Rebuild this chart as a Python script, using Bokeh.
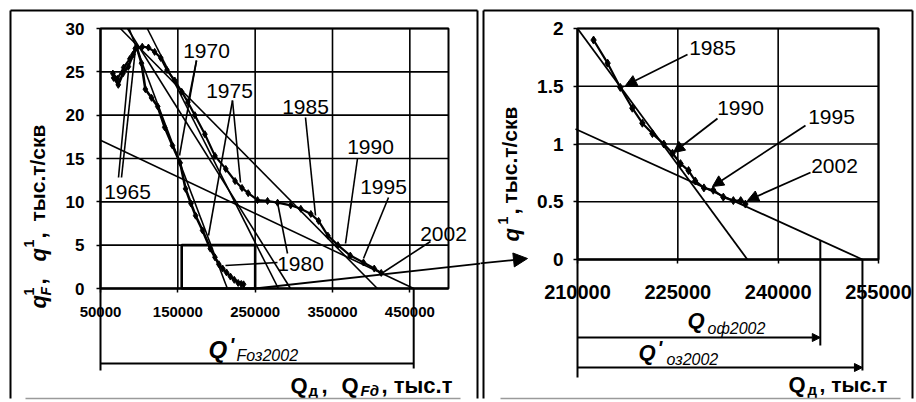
import math
from bokeh.plotting import figure
from bokeh.models import Range1d, FixedTicker, Label, Arrow, NormalHead
from bokeh.layouts import row
from bokeh.embed import file_html
from bokeh.resources import INLINE

FONT = "Liberation Sans"

# ---------------- data ----------------
# Left panel: q_F^1 vs Q_Fd (fund curve)
QF_fund = [66000, 72000, 80000, 88000, 95000, 104000, 112000, 120000, 128000, 136000,
           146000, 155000, 163000, 172000, 185000, 198000, 212000, 224000, 233000, 241000,
           253000, 266000, 279000, 296000, 309000, 322000, 332000, 344000, 357000, 373000,
           390000, 404000, 413000]
qF_fund = [24.8, 24.2, 25.5, 26.5, 27.7, 27.9, 27.8, 27.3, 26.6, 25.2,
           24.0, 22.7, 21.5, 20.0, 17.8, 15.3, 13.8, 12.4, 11.6, 11.0,
           10.2, 10.1, 9.9, 9.6, 9.2, 8.6, 7.8, 6.1, 5.0, 3.8,
           3.0, 2.3, 1.8]
# Left panel: q^1 vs Q_d (well curve)
Q_well = [67000, 73000, 79000, 86000, 92000, 97000, 103000, 108000, 116000, 124000,
          133000, 143000, 153000, 160000, 167000, 173000, 182000, 192000, 198000, 203000,
          208000, 213000, 218000, 223000, 228000, 232000, 235000]
q_well = [24.3, 23.5, 24.8, 25.6, 27.0, 27.8, 26.0, 23.0, 22.0, 21.0,
          18.6, 16.5, 14.5, 11.5, 9.8, 8.4, 6.7, 4.6, 3.6, 2.8,
          2.3, 1.85, 1.38, 1.0, 0.64, 0.53, 0.48]
# Left panel straight trend lines (start / end points)
left_trend_x0 = [50000, 75700, 110500, 87000, 84900]
left_trend_y0 = [17.1, 30.0, 30.0, 30.0, 30.0]
left_trend_x1 = [455000, 408000, 280000, 214000, 295700]
left_trend_y1 = [0.0, 0.0, 0.0, 0.0, 0.0]
left_xticks = [50000, 150000, 250000, 350000, 450000]
left_yticks = [0, 5, 10, 15, 20, 25, 30]
left_xlim = [50000, 500000]
left_ylim = [0, 30]
left_box_x = [155000, 250000]
left_box_y = [0, 5]
QF_oz2002 = 455000          # Q'_Fоз2002 (zero of the last trend line)

# Right panel: q^1 vs Q_d (zoomed)
Q_zoom = [212400, 214500, 216400, 218200, 219700, 221200, 222900, 224200, 225400, 226600,
          227600, 228900, 230300, 231800, 233300, 234400, 235100]
q_zoom = [1.90, 1.70, 1.49, 1.31, 1.18, 1.09, 1.00, 0.92, 0.83, 0.77,
          0.68, 0.62, 0.60, 0.54, 0.51, 0.51, 0.48]
right_trend_x0 = [210000, 209700]
right_trend_y0 = [2.0, 1.13]
right_trend_x1 = [235400, 252600]
right_trend_y1 = [0.0, 0.0]
right_xticks = [210000, 225000, 240000, 255000]
right_yticks = [0, 0.5, 1, 1.5, 2]
right_xlim = [210000, 255000]
right_ylim = [0, 2]
Q_of2002 = 246300           # Q_оф2002
Q_oz2002 = 252600           # Q'_оз2002

# ---------------- layout helpers ----------------
H = 402
LW, RW = 480, 436
# page-pixel -> data converters (plot-area geometry of each panel)
def LX(px): return 50000 + (px - 100) / 348 * 450000
def LY(py): return (288 - py) / 260 * 30
def RX(px): return 210000 + (px - 577) / 301 * 45000
def RY(py): return (259 - py) / 231 * 2


def make_fig(w, xr, yr, xlim, ylim, xticks, yticks, xsize, ysize, xstand, ystand, yover=None):
    p = figure(width=w, height=H, x_range=Range1d(*xr), y_range=Range1d(*yr),
               output_backend="svg", toolbar_location=None,
               min_border=0, min_border_left=0, min_border_right=0,
               min_border_top=0, min_border_bottom=0)
    p.background_fill_color = "white"
    p.border_fill_color = "white"
    p.outline_line_color = None
    p.xgrid.visible = False
    p.ygrid.visible = False
    p.xaxis.ticker = FixedTicker(ticks=xticks)
    p.yaxis.ticker = FixedTicker(ticks=yticks)
    p.xaxis.major_label_overrides = {t: str(t) for t in xticks}
    p.yaxis.major_label_overrides = yover or {t: str(t) for t in yticks}
    p.xaxis.fixed_location = ylim[0]
    p.yaxis.fixed_location = xlim[0]
    p.xaxis.bounds = tuple(xlim)
    p.yaxis.bounds = tuple(ylim)
    for ax, size, stand in ((p.xaxis[0], xsize, xstand), (p.yaxis[0], ysize, ystand)):
        ax.axis_line_color = "black"
        ax.axis_line_width = 1.8
        ax.major_tick_line_color = "black"
        ax.major_tick_line_width = 1.5
        ax.major_tick_in = 0
        ax.major_tick_out = 4
        ax.minor_tick_line_color = None
        ax.major_label_text_font = FONT
        ax.major_label_text_font_style = "bold"
        ax.major_label_text_font_size = f"{size}px"
        ax.major_label_text_color = "black"
        ax.major_label_standoff = stand
    # grid lines limited to the plot area
    p.segment(x0=xticks, y0=[ylim[0]] * len(xticks), x1=xticks, y1=[ylim[1]] * len(xticks),
              line_color="black", line_width=1.6)
    p.segment(x0=[xlim[0]] * len(yticks), y0=yticks, x1=[xlim[1]] * len(yticks), y1=yticks,
              line_color="black", line_width=1.6)
    p.quad(left=xlim[0], right=xlim[1], bottom=ylim[0], top=ylim[1],
           fill_color=None, line_color="black", line_width=2.0)
    return p


def lab(p, x, y, text, size, style="normal", align="center", angle=0.0):
    p.add_layout(Label(x=x, y=y, text=text, text_font=FONT, text_font_size=f"{size}px",
                       text_font_style=style, text_align=align, text_baseline="middle",
                       angle=angle, text_color="black"))


def seg(p, x0, y0, x1, y1, w=1.4, head=None, color="black"):
    p.add_layout(Arrow(x_start=x0, y_start=y0, x_end=x1, y_end=y1, line_width=w,
                       line_color=color, end=head))


def head(size):
    return NormalHead(size=size, fill_color="black", line_color="black", line_width=1)


R90 = math.pi / 2

# ================= LEFT PANEL =================
p1 = make_fig(LW, (LX(0), LX(LW)), (LY(H), LY(0)), left_xlim, left_ylim,
              left_xticks, left_yticks, 15, 17, 14, 12)

p1.segment(x0=left_trend_x0, y0=left_trend_y0, x1=left_trend_x1, y1=left_trend_y1,
           line_color="black", line_width=1.6)
p1.line(QF_fund, qF_fund, line_color="black", line_width=2.2)
p1.scatter(QF_fund, qF_fund, marker="diamond", size=7, color="black")
p1.line(Q_well, q_well, line_color="black", line_width=2.6)
p1.scatter(Q_well, q_well, marker="diamond", size=7, color="black")
p1.quad(left=left_box_x[0], right=left_box_x[1], bottom=left_box_y[0], top=left_box_y[1],
        fill_color=None, line_color="black", line_width=2.6)

# year labels
for t, (px, py) in {"1965": (127, 191), "1970": (206, 50), "1975": (229, 90),
                    "1985": (305, 106), "1990": (370, 146), "1995": (383, 186),
                    "1980": (300, 263), "2002": (443, 233)}.items():
    lab(p1, LX(px), LY(py), t, 21)

# pointer lines
for (a, b, c, d) in [(118, 177, 128, 70), (121, 177, 135, 48),
                     (196, 60, 179, 155), (196, 60, 188, 100),
                     (232, 100, 208, 235), (232, 100, 240, 182),
                     (287, 253, 277, 202), (277, 262, 225, 265),
                     (305, 117, 315, 215), (357, 158, 345, 243),
                     (388, 197, 363, 258), (430, 241, 381, 273)]:
    seg(p1, LX(a), LY(b), LX(c), LY(d), w=1.6)

# big arrow towards the zoomed panel (left part)
seg(p1, left_box_x[1], left_box_y[0], LX(481), LY(263), w=1.8)

# bracket Q'_Fоз2002
seg(p1, left_xlim[0], LY(363), QF_oz2002, LY(363), w=2.0)
seg(p1, left_xlim[0], 0, left_xlim[0], LY(370), w=2.0)
seg(p1, QF_oz2002, 0, QF_oz2002, LY(368), w=2.0)
lab(p1, LX(208), LY(349), "Q", 24, "bold italic", "left")
lab(p1, LX(229), LY(344), "'", 20, "bold italic", "left")
lab(p1, LX(236), LY(355), "Fоз2002", 16, "italic", "left")

# x axis title: Q_д, Q_Fд, тыс.т
lab(p1, LX(290), LY(385), "Q", 22, "bold", "left")
lab(p1, LX(308), LY(390), "д", 15, "bold", "left")
lab(p1, LX(321), LY(385), ",", 22, "bold", "left")
lab(p1, LX(341), LY(385), "Q", 22, "bold", "left")
lab(p1, LX(360), LY(390), "Fд", 15, "bold italic", "left")
lab(p1, LX(381), LY(385), ", тыс.т", 22, "bold", "left")

# y axis title (rotated): q_F^1, q^1, тыс.т/скв
lab(p1, LX(38), LY(308), "q", 22, "bold italic", "left", R90)
lab(p1, LX(45), LY(295), "F", 14, "bold italic", "left", R90)
lab(p1, LX(28), LY(295), "1", 14, "bold", "left", R90)
lab(p1, LX(38), LY(284), ",", 22, "bold", "left", R90)
lab(p1, LX(38), LY(261), "q", 22, "bold italic", "left", R90)
lab(p1, LX(28), LY(247), "1", 14, "bold", "left", R90)
lab(p1, LX(38), LY(238), ",", 22, "bold", "left", R90)
lab(p1, LX(37), LY(221), "тыс.т/скв", 21, "bold", "left", R90)

# panel frame
seg(p1, LX(10), LY(10), LX(477), LY(10), w=2.0)
seg(p1, LX(10), LY(10), LX(10), LY(398), w=2.0)
seg(p1, LX(477), LY(10), LX(477), LY(398), w=2.0)
seg(p1, LX(25), LY(398), LX(460), LY(398), w=1.5, color="#9a9a9a")

# ================= RIGHT PANEL =================
p2 = make_fig(RW, (RX(LW), RX(LW + RW)), (RY(H), RY(0)), right_xlim, right_ylim,
              right_xticks, right_yticks, 20, 19, 21, 10,
              yover={0: "0", 0.5: "0.5", 1: "1", 1.5: "1.5", 2: "2"})

p2.segment(x0=right_trend_x0, y0=right_trend_y0, x1=right_trend_x1, y1=right_trend_y1,
           line_color="black", line_width=1.8)
p2.line(Q_zoom, q_zoom, line_color="black", line_width=2.2)
p2.scatter(Q_zoom, q_zoom, marker="diamond", size=8, color="black")

for t, (px, py) in {"1985": (712, 47), "1990": (740, 107),
                    "1995": (831, 116), "2002": (834, 165)}.items():
    lab(p2, RX(px), RY(py), t, 21)
for (a, b, c, d) in [(687, 54, 625, 85), (717, 118, 673, 152),
                     (805, 125, 712, 186), (810, 172, 747, 200)]:
    seg(p2, RX(a), RY(b), RX(c), RY(d), w=1.8, head=head(11))

# big arrow (right part with head)
seg(p2, RX(479), RY(263), RX(527), RY(258), w=1.8, head=head(14))

# brackets
y_of = right_trend_y0[1] * (Q_oz2002 - Q_of2002) / (Q_oz2002 - right_trend_x0[1])
seg(p2, right_xlim[0], 0, right_xlim[0], RY(377), w=2.0)
seg(p2, Q_of2002, y_of, Q_of2002, RY(345), w=2.0)
seg(p2, Q_oz2002, 0, Q_oz2002, RY(370), w=2.0)
seg(p2, right_xlim[0], RY(337), Q_of2002, RY(337), w=2.0, head=head(8))
seg(p2, right_xlim[0], RY(367), Q_oz2002, RY(367), w=2.0, head=head(8))
lab(p2, RX(687), RY(320), "Q", 22, "bold italic", "left")
lab(p2, RX(707), RY(328), "оф2002", 16, "italic", "left")
lab(p2, RX(638), RY(352), "Q", 22, "bold italic", "left")
lab(p2, RX(657), RY(347), "'", 20, "bold italic", "left")
lab(p2, RX(666), RY(359), "оз2002", 16, "italic", "left")

# x axis title Q_д, тыс.т
lab(p2, RX(788), RY(384), "Q", 22, "bold", "left")
lab(p2, RX(807), RY(389), "д", 15, "bold", "left")
lab(p2, RX(819), RY(384), ", тыс.т", 21, "bold", "left")

# y axis title q^1, тыс.т/скв
lab(p2, RX(511), RY(241), "q", 22, "bold italic", "left", R90)
lab(p2, RX(502), RY(224), "1", 14, "bold", "left", R90)
lab(p2, RX(511), RY(214), ",", 22, "bold", "left", R90)
lab(p2, RX(509), RY(203), "тыс.т/скв", 21, "bold", "left", R90)

# panel frame
seg(p2, RX(483), RY(10), RX(912), RY(10), w=2.0)
seg(p2, RX(483), RY(10), RX(483), RY(398), w=2.0)
seg(p2, RX(912), RY(10), RX(912), RY(398), w=2.0)
seg(p2, RX(500), RY(398), RX(900), RY(398), w=1.5, color="#9a9a9a")

layout = row(p1, p2, spacing=0)
open("out.html", "w").write(file_html(layout, INLINE))
